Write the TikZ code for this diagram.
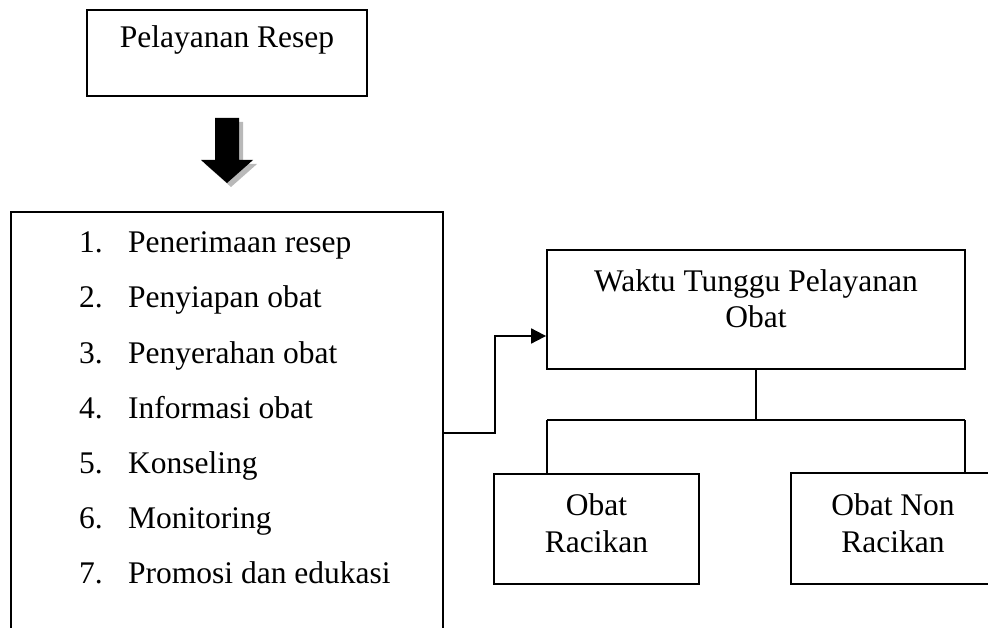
\documentclass[tikz,border=0pt]{standalone}
\usepackage{fontspec}
\setmainfont{Liberation Serif}
\usetikzlibrary{arrows.meta}
\begin{document}
\begin{tikzpicture}[x=1pt,y=-1pt,
  every node/.style={font=\fontsize{31.5}{36}\selectfont},
  box/.style={draw=black,line width=1.8pt,rectangle,inner sep=0pt},
  txt/.style={inner sep=0pt,anchor=base},
  item/.style={inner sep=0pt,anchor=base west},
  conn/.style={draw=black,line width=1.8pt}]
\useasboundingbox (0,0) rectangle (988,628);
\clip (0,0) rectangle (988,628);
% boxes
\node[box,minimum width=280pt,minimum height=86pt] (top) at (227,53) {};
\node[box,minimum width=432pt,minimum height=438pt] (list) at (227,431) {};
\node[box,minimum width=418pt,minimum height=119pt] (wait) at (756,309.5) {};
\node[box,minimum width=205pt,minimum height=110pt] (rac) at (596.5,529) {};
\node[box,minimum width=204pt,minimum height=111pt] (nonrac) at (893,528.5) {};
% texts
\node[txt] (ttop) at (227,48) {Pelayanan Resep};
\node[txt] (twait1) at (756,292) {Waktu Tunggu Pelayanan};
\node[txt] (twait2) at (756,327) {Obat};
\node[txt] (trac1) at (596.5,515) {Obat};
\node[txt] (trac2) at (596.5,552) {Racikan};
\node[txt] (tnon1) at (893,515) {Obat Non};
\node[txt] (tnon2) at (893,552) {Racikan};
\foreach \n/\t [count=\i] in {1/Penerimaan resep,2/Penyiapan obat,3/Penyerahan obat,4/Informasi obat,5/Konseling,6/Monitoring,7/Promosi dan edukasi}{
  \node[item] (num\i) at (79,{253+55*(\i-1)}) {\n.};
  \node[item] (it\i) at (128,{253+55*(\i-1)}) {\t};
}
% block arrow with shadow
\fill[gray!55] (219,122) -- (243,122) -- (243,164) -- (257,164) -- (231,187) -- (205,164) -- (219,164) -- cycle;
\fill[black] (215,118) -- (239,118) -- (239,160) -- (253,160) -- (227,183) -- (201,160) -- (215,160) -- cycle;
% connectors
\coordinate (c1) at (list.east |- 0,433);
\coordinate (c2) at (wait.west |- 0,336);
\draw[conn,-{Triangle[length=15pt,width=15pt]}] (c1) -- (495,433) -- (495,336) -- (c2);
\coordinate (split) at (756,420);
\draw[conn] (wait.south) -- (split);
\draw[conn] (547,420) -- (965,420);
\draw[conn] (547,420) -- (547,474);
\draw[conn] (965,420) -- (965,473);
\end{tikzpicture}
\end{document}
